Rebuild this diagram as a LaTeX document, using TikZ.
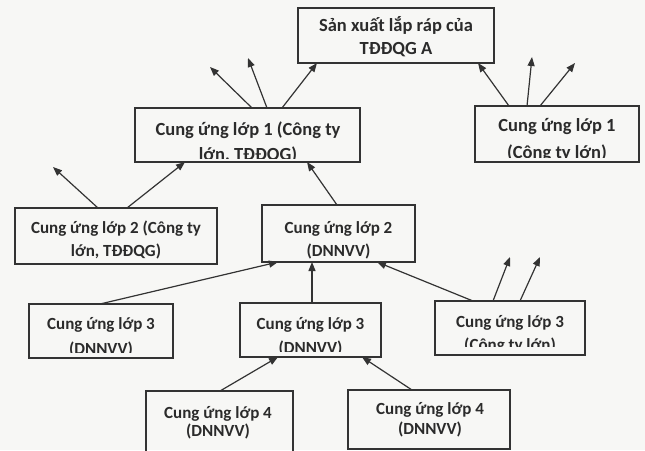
\documentclass[tikz,border=0pt]{standalone}
\usepackage{fontspec}
\setmainfont{Carlito}
\usetikzlibrary{arrows.meta}
\definecolor{ink}{HTML}{333333}
\definecolor{txt}{HTML}{2B2B2B}
\definecolor{paper}{HTML}{F7F7F5}
\begin{document}
\begin{tikzpicture}[x=1pt,y=-1pt,
  box/.style={draw=ink, line width=1.2pt, inner sep=0pt, outer sep=0pt},
  bigt/.style={font=\bfseries\fontsize{18.5}{22}\selectfont, text=txt, inner sep=0pt, anchor=base},
  smallt/.style={font=\bfseries\fontsize{17}{21}\selectfont, text=txt, inner sep=0pt, anchor=base},
  arr/.style={draw=ink, line width=1.2pt, -{Triangle[length=9pt,width=7pt]}}
]
\useasboundingbox (0,0) rectangle (645,450);
\fill[paper] (0,0) rectangle (645,450);

% boxes
\node[box, minimum width=196pt, minimum height=55pt] (top) at (396,35.5) {};
\node[box, minimum width=225pt, minimum height=54pt] (c1big) at (247.5,135) {};
\node[box, minimum width=164pt, minimum height=56pt] (c1right) at (557,134) {};
\node[box, minimum width=202pt, minimum height=56pt] (c2left) at (116,236) {};
\node[box, minimum width=153pt, minimum height=57pt] (c2mid) at (338.5,233.5) {};
\node[box, minimum width=144pt, minimum height=54pt] (c3left) at (101,331) {};
\node[box, minimum width=141pt, minimum height=54pt] (c3mid) at (310.5,330) {};
\node[box, minimum width=150pt, minimum height=54pt] (c3right) at (510,328) {};
\node[box, minimum width=147pt, minimum height=61pt] (c4left) at (219.5,421.5) {};
\node[box, minimum width=162pt, minimum height=59pt] (c4right) at (429,419.5) {};

% texts
\node[bigt] (topA) at (396,31) {Sản xuất lắp ráp của};
\node[bigt] (topB) at (396,54) {TĐĐQG A};
\begin{scope}
  \clip (136,109) rectangle (359,158);
  \node[bigt] (c1bigA) at (248,135) {Cung ứng lớp 1 (Công ty};
  \node[bigt] (c1bigB) at (248,160) {lớn, TĐĐQG)};
\end{scope}
\begin{scope}
  \clip (476,107) rectangle (638,157);
  \node[bigt] (c1rightA) at (557,131) {Cung ứng lớp 1};
  \node[bigt] (c1rightB) at (557,158) {(Công ty lớn)};
\end{scope}
\node[smallt] (c2leftA) at (116,233) {Cung ứng lớp 2 (Công ty};
\node[smallt] (c2leftB) at (116,256) {lớn, TĐĐQG)};
\node[smallt] (c2midA) at (338.5,233) {Cung ứng lớp 2};
\node[smallt] (c2midB) at (338.5,256) {(DNNVV)};
\begin{scope}
  \clip (30,305) rectangle (172,352);
  \node[smallt] (c3leftA) at (101,329) {Cung ứng lớp 3};
  \node[smallt] (c3leftB) at (101,354) {(DNNVV)};
\end{scope}
\begin{scope}
  \clip (241,304) rectangle (380,351);
  \node[smallt] (c3midA) at (310.5,329) {Cung ứng lớp 3};
  \node[smallt] (c3midB) at (310.5,353) {(DNNVV)};
\end{scope}
\begin{scope}
  \clip (436,302) rectangle (584,346);
  \node[smallt] (c3rightA) at (510,327) {Cung ứng lớp 3};
  \node[smallt] (c3rightB) at (510,350) {(Công ty lớn)};
\end{scope}
\node[smallt] (c4leftA) at (218,418) {Cung ứng lớp 4};
\node[smallt] (c4leftB) at (218,436) {(DNNVV)};
\node[smallt] (c4rightA) at (430,414) {Cung ứng lớp 4};
\node[smallt] (c4rightB) at (430,434) {(DNNVV)};

% free arrow ends
\coordinate (f1) at (210,67);
\coordinate (f2) at (248,58);
\coordinate (f3) at (532,57);
\coordinate (f4) at (575,63);
\coordinate (f5) at (53,167);
\coordinate (f6) at (510,257);
\coordinate (f7) at (540,257);

% connectors
\draw[arr] ([xshift=147pt]c1big.north west) -- ([xshift=19pt]top.south west);
\draw[arr] ([xshift=117pt]c1big.north west) -- (f1);
\draw[arr] ([xshift=132pt]c1big.north west) -- (f2);
\draw[arr] ([xshift=34pt]c1right.north west) -- ([xshift=180pt]top.south west);
\draw[arr] ([xshift=52pt]c1right.north west) -- (f3);
\draw[arr] ([xshift=65pt]c1right.north west) -- (f4);
\draw[arr] ([xshift=83pt]c2left.north west) -- (f5);
\draw[arr] ([xshift=112pt]c2left.north west) -- ([xshift=50pt]c1big.south west);
\draw[arr] ([xshift=75pt]c2mid.north west) -- ([xshift=172pt]c1big.south west);
\draw[arr] ([xshift=71pt]c3left.north west) -- ([xshift=16pt]c2mid.south west);
\draw[arr] ([xshift=72pt]c3mid.north west) -- ([xshift=50pt]c2mid.south west);
\draw[arr] ([xshift=38pt]c3right.north west) -- ([xshift=115pt]c2mid.south west);
\draw[arr] ([xshift=58pt]c3right.north west) -- (f6);
\draw[arr] ([xshift=85pt]c3right.north west) -- (f7);
\draw[arr] ([xshift=74pt]c4left.north west) -- ([xshift=38pt]c3mid.south west);
\draw[arr] ([xshift=64pt]c4right.north west) -- ([xshift=122pt]c3mid.south west);
\end{tikzpicture}
\end{document}
